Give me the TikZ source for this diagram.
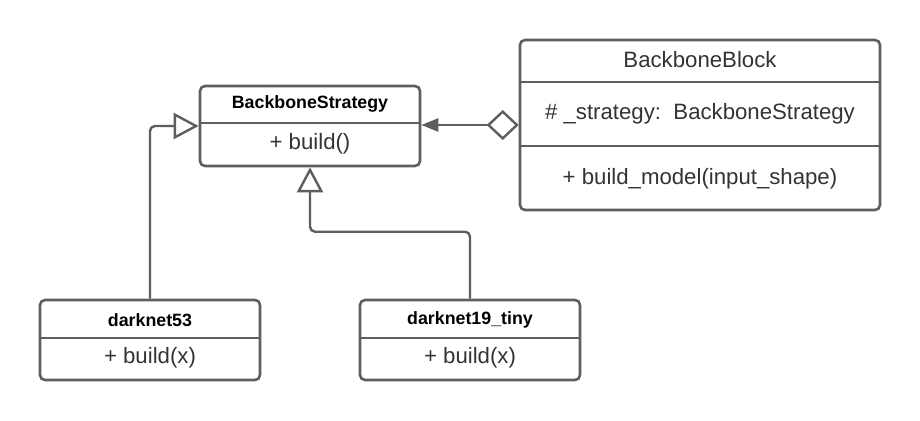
\documentclass[tikz,border=0pt]{standalone}
\usepackage{fontspec}
\setmainfont{Liberation Sans}
\usetikzlibrary{arrows.meta}
\definecolor{lg}{RGB}{94,94,94}
\definecolor{tx}{RGB}{51,51,51}
\begin{document}
\begin{tikzpicture}[x=1pt,y=-1pt,
  box/.style={draw=lg, line width=2.6pt, rounded corners=5pt, inner sep=0pt},
  divline/.style={draw=lg, line width=2.6pt},
  conn/.style={draw=lg, line width=2.4pt, rounded corners=5pt},
  ttl/.style={text=black, font=\fontsize{17.8}{20}\selectfont\bfseries, inner sep=0pt, anchor=center},
  ttlreg/.style={text=tx, font=\fontsize{22.2}{25}\selectfont, inner sep=0pt, anchor=center},
  member/.style={text=tx, font=\fontsize{22.2}{25}\selectfont, inner sep=0pt, anchor=center},
  gen/.style={-{Triangle[open, length=25pt, width=26pt, fill=white]}},
  agg/.style={{Diamond[open, length=32pt, width=30pt, fill=white]}-{Triangle[length=17pt, width=13pt]}}
]
\useasboundingbox (0,0) rectangle (920,420);

% BackboneStrategy
\node[box, minimum width=220pt, minimum height=80pt] (bs) at (310,126) {};
\draw[divline] (bs.west |- 0,123) -- (bs.east |- 0,123);
\node[ttl] (bst) at (310,104) {BackboneStrategy};
\node[member] (bsm) at (310,144) {+ build()};

% BackboneBlock
\node[box, minimum width=360pt, minimum height=170pt] (bb) at (700,125) {};
\draw[divline] (bb.west |- 0,82) -- (bb.east |- 0,82);
\draw[divline] (bb.west |- 0,146) -- (bb.east |- 0,146);
\node[ttlreg] (bbt) at (700,60) {BackboneBlock};
\node[member] (bba) at (700,114) {\# \_strategy:\ \ BackboneStrategy};
\node[member] (bbm) at (700,179) {+ build\_model(input\_shape)};

% darknet53
\node[box, minimum width=220pt, minimum height=80pt] (d53) at (150,340) {};
\draw[divline] (d53.west |- 0,338) -- (d53.east |- 0,338);
\node[ttl] (d53t) at (150,320) {darknet53};
\node[member] (d53m) at (150,358) {+ build(x)};

% darknet19_tiny
\node[box, minimum width=220pt, minimum height=80pt] (d19) at (470,340) {};
\draw[divline] (d19.west |- 0,338) -- (d19.east |- 0,338);
\node[ttl] (d19t) at (470,320) {darknet19\_tiny};
\node[member] (d19m) at (470,358) {+ build(x)};

% connectors
\draw[conn, agg] (bb.west) -- (bb.west -| bs.east);
\draw[conn, gen] (d53.north) |- (bs.west);
\draw[conn, gen] (d19.north) -- ++(0,-67) -| (bs.south);
\end{tikzpicture}
\end{document}
